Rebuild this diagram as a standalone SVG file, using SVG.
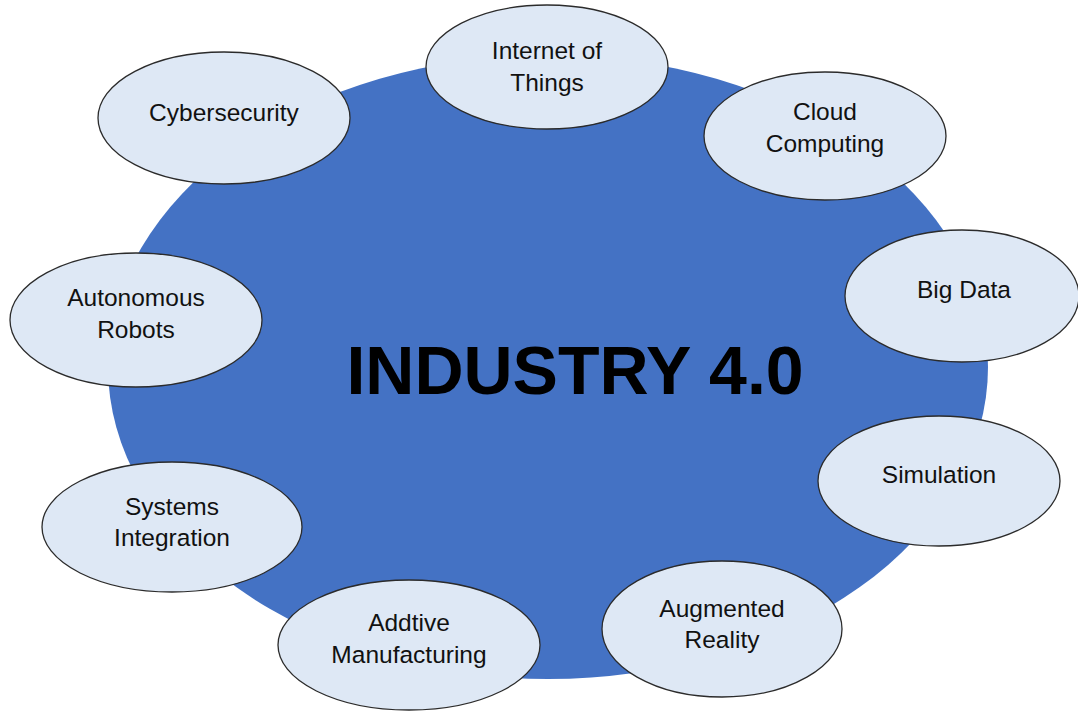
<svg xmlns="http://www.w3.org/2000/svg" width="1078" height="711" viewBox="0 0 1078 711">
<style>
.bg{fill:#ffffff}
.hub{fill:#4472C4;stroke:none}
.node{fill:#DEE8F5;stroke:#2b2b2b;stroke-width:1.3}
.t{font-family:"Liberation Sans",Arial,sans-serif;font-size:24.5px;fill:#111;text-anchor:middle}
.title{font-family:"Liberation Sans",Arial,sans-serif;font-size:68px;font-weight:bold;fill:#000;text-anchor:middle}
</style>
<rect class="bg" width="1078" height="711"/>
<g id="hub">
<ellipse class="hub" cx="548" cy="367" rx="440" ry="312"/>
<text class="title" x="575" y="394">INDUSTRY 4.0</text>
</g>
<g id="connectors"></g>
<g id="iot"><ellipse class="node" cx="547" cy="67" rx="121" ry="62"/><text class="t" x="547" y="59">Internet of</text><text class="t" x="547" y="91">Things</text></g>
<g id="cyber"><ellipse class="node" cx="224" cy="118" rx="126" ry="66"/><text class="t" x="224" y="121">Cybersecurity</text></g>
<g id="cloud"><ellipse class="node" cx="825" cy="136" rx="121" ry="64"/><text class="t" x="825" y="120">Cloud</text><text class="t" x="825" y="152">Computing</text></g>
<g id="bigdata"><ellipse class="node" cx="962" cy="296" rx="117" ry="66"/><text class="t" x="964" y="298">Big Data</text></g>
<g id="robots"><ellipse class="node" cx="136" cy="320" rx="126" ry="67"/><text class="t" x="136" y="306">Autonomous</text><text class="t" x="136" y="338">Robots</text></g>
<g id="simulation"><ellipse class="node" cx="939" cy="481" rx="121" ry="65"/><text class="t" x="939" y="483">Simulation</text></g>
<g id="integration"><ellipse class="node" cx="172" cy="527" rx="130" ry="65"/><text class="t" x="172" y="515">Systems</text><text class="t" x="172" y="546">Integration</text></g>
<g id="ar"><ellipse class="node" cx="722" cy="629" rx="120" ry="68"/><text class="t" x="722" y="617">Augmented</text><text class="t" x="722" y="648">Reality</text></g>
<g id="additive"><ellipse class="node" cx="409" cy="645" rx="131" ry="65"/><text class="t" x="409" y="631">Addtive</text><text class="t" x="409" y="663">Manufacturing</text></g>
</svg>
